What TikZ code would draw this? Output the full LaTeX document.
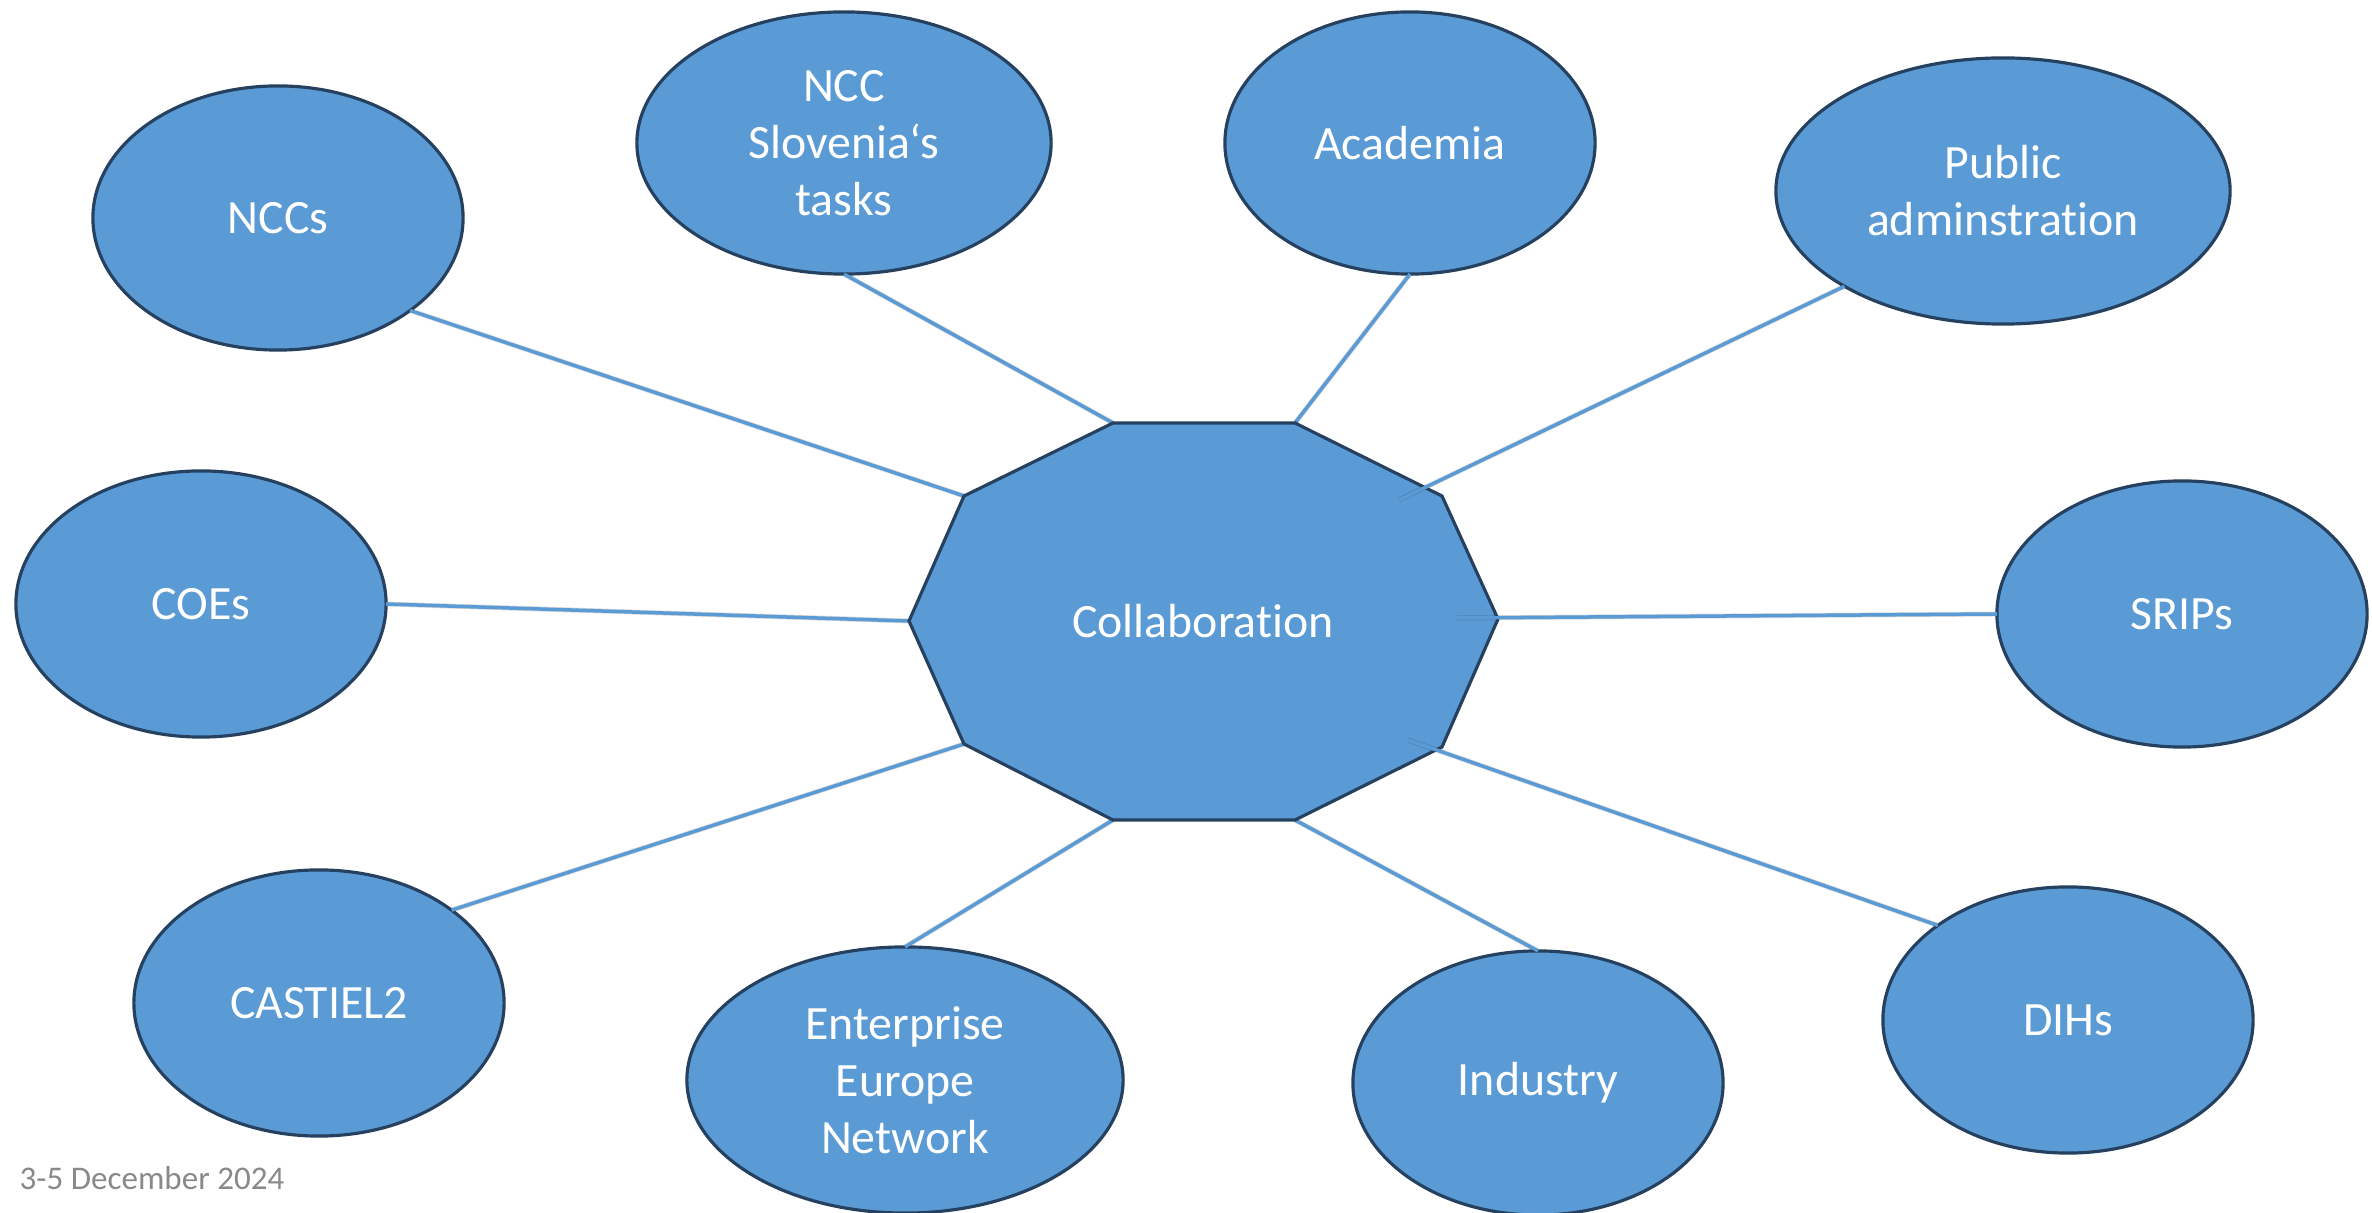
\documentclass[tikz,border=0pt]{standalone}
\usepackage{fontspec}
\setmainfont{Carlito}[Ligatures=NoCommon]
\usetikzlibrary{shapes.geometric}
\definecolor{fillblue}{HTML}{5B9BD5}
\definecolor{edgedark}{HTML}{25415F}
\definecolor{lineblue}{HTML}{5B9BD5}
\definecolor{dategray}{HTML}{898989}
\tikzset{
  bubble/.style={ellipse, draw=edgedark, line width=0.9pt, fill=fillblue,
    text=white, inner sep=0pt, outer sep=0pt, align=center,
    font=\fontsize{13.6}{16.2}\selectfont},
  linkshadow/.style={draw=black, opacity=0.15, line width=1.4pt, shift={(1.5,1.5)}},
  link/.style={draw=lineblue, line width=1pt},
}
\begin{document}
\begin{tikzpicture}[x=0.01cm, y=-0.01cm]
\useasboundingbox (0,0) rectangle (2372,1213);
% decagon vertices
\coordinate (v1) at (1113,423);
\coordinate (v2) at (1295,423);
\coordinate (v3) at (1442,496);
\coordinate (v4) at (1498,619);
\coordinate (v5) at (1442,747);
\coordinate (v6) at (1295,820);
\coordinate (v7) at (1113,820);
\coordinate (v8) at (964,744);
\coordinate (v9) at (909,621);
\coordinate (v10) at (964,496);
\coordinate (pubin) at (1399,500);
\coordinate (sripin) at (1455,618);
\coordinate (dihin) at (1408,740);
% ellipses
\node[bubble, minimum width=3.70cm, minimum height=2.64cm] (nccs) at (278,218) {NCCs};
\node[bubble, minimum width=4.14cm, minimum height=2.62cm] (slo) at (844,143) {NCC\\Slovenia‘s\\tasks};
\node[bubble, minimum width=3.70cm, minimum height=2.62cm] (acad) at (1410,143) {Academia};
\node[bubble, minimum width=4.54cm, minimum height=2.66cm] (pub) at (2003,191) {Public\\adminstration};
\node[bubble, minimum width=3.70cm, minimum height=2.66cm] (coes) at (201,604) {COEs};
\node[bubble, minimum width=3.70cm, minimum height=2.66cm] (srips) at (2182,614) {SRIPs};
\node[bubble, minimum width=3.70cm, minimum height=2.66cm] (cast) at (319,1003) {CASTIEL2};
\node[bubble, minimum width=4.36cm, minimum height=2.66cm] (een) at (905,1080) {Enterprise\\Europe\\Network};
\node[bubble, minimum width=3.70cm, minimum height=2.64cm] (ind) at (1538,1083) {Industry};
\node[bubble, minimum width=3.70cm, minimum height=2.66cm] (dih) at (2068,1020) {DIHs};
% connectors below decagon
\foreach \a/\b in {nccs.-35/v10, slo.south/v1, acad.south/v2, coes.east/v9, cast.35/v8, een.north/v7, ind.north/v6}{
  \draw[linkshadow] (\a) -- (\b);
  \draw[link] (\a) -- (\b);
}
% decagon
\draw[draw=edgedark, line width=0.9pt, fill=fillblue] (v1) -- (v2) -- (v3) -- (v4) -- (v5) -- (v6) -- (v7) -- (v8) -- (v9) -- (v10) -- cycle;
\node[text=white, font=\fontsize{13.6}{16.2}\selectfont] (collab) at (1203,621) {Collaboration};
% connectors reaching into the decagon
\foreach \a/\b in {pub.-149/pubin, srips.west/sripin, dih.144/dihin}{
  \draw[linkshadow] (\a) -- (\b);
  \draw[link] (\a) -- (\b);
}
% date
\node[anchor=base west, inner sep=0pt, text=dategray, font=\fontsize{9.4}{11}\selectfont] (date) at (19,1189) {3-5 December 2024};
\end{tikzpicture}
\end{document}
